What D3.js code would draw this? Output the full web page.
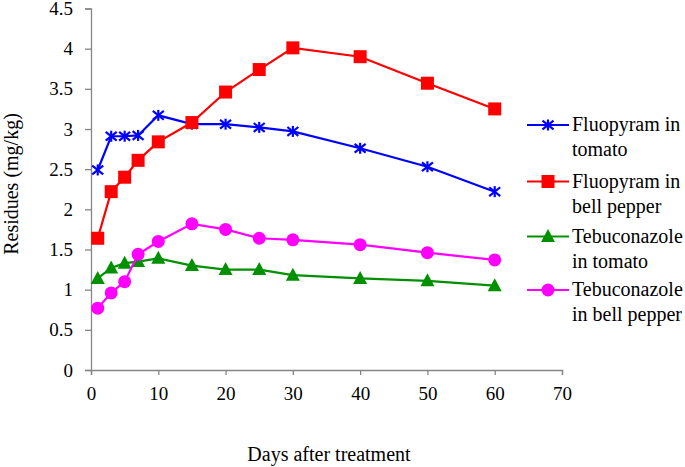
<!DOCTYPE html>
<html><head><meta charset="utf-8">
<script src="https://cdn.jsdelivr.net/npm/d3@7"></script>
<style>body{margin:0;background:#fff}svg{display:block}text{font-family:"Liberation Serif","Times New Roman",serif;fill:#000}</style>
</head><body><svg id="c" width="685" height="467"></svg>
<script>
const days = [1,3,5,7,10,15,20,25,30,40,50,60];
const fluopyramTomato = [2.49,2.91,2.91,2.92,3.17,3.06,3.06,3.02,2.97,2.76,2.53,2.22];
const fluopyramPepper = [1.64,2.22,2.40,2.61,2.84,3.08,3.46,3.74,4.01,3.90,3.57,3.25];
const tebuTomato = [1.14,1.27,1.33,1.35,1.39,1.30,1.25,1.25,1.18,1.14,1.11,1.05];
const tebuPepper = [0.77,0.96,1.10,1.44,1.60,1.82,1.75,1.64,1.62,1.56,1.46,1.37];
const seriesNames = [["Fluopyram in","tomato"],["Fluopyram in","bell pepper"],["Tebuconazole","in tomato"],["Tebuconazole","in bell pepper"]];
const colors = ["#0000ff","#ff0000","#009000","#ff00ff"];
const markers = ["star","square","triangle","circle"];
const xTicks = [0,10,20,30,40,50,60,70];
const yTicks = [0,0.5,1,1.5,2,2.5,3,3.5,4,4.5];
const xTitle = "Days after treatment";
const yTitle = "Residues (mg/kg)";

const svg = d3.select("#c");
const x = d3.scaleLinear().domain([0,70]).range([91,562]);
const y = d3.scaleLinear().domain([0,4.5]).range([370,8.5]);
const axisColor = "#868686";

const gx = svg.append("g").attr("transform","translate(0,370)")
  .call(d3.axisBottom(x).tickValues(xTicks).tickSize(5).tickPadding(12).tickFormat(d3.format("d")));
const gy = svg.append("g").attr("transform","translate(91,0)")
  .call(d3.axisLeft(y).tickValues(yTicks).tickSize(6).tickPadding(12).tickFormat(d=>String(d)));
[gx,gy].forEach(g=>{
  g.select(".domain").attr("stroke",axisColor).attr("stroke-width",1.3);
  g.selectAll(".tick line").attr("stroke",axisColor).attr("stroke-width",1.3);
  g.selectAll("text").attr("font-size",19).attr("font-family","Liberation Serif").attr("fill","#000");
});

svg.append("text").attr("x",329).attr("y",461).attr("text-anchor","middle").attr("font-size",20).text(xTitle);
svg.append("text").attr("transform","translate(18,184) rotate(-90)").attr("text-anchor","middle").attr("font-size",20).text(yTitle);

const allSeries = [fluopyramTomato,fluopyramPepper,tebuTomato,tebuPepper];
const line = d3.line().x((d,i)=>x(days[i])).y(d=>y(d));

function drawMarker(g, type, cx, cy, color){
  if(type==="square"){
    g.append("rect").attr("x",cx-6.5).attr("y",cy-6.5).attr("width",13).attr("height",13).attr("fill",color);
  } else if(type==="circle"){
    g.append("circle").attr("cx",cx).attr("cy",cy).attr("r",6.5).attr("fill",color);
  } else if(type==="triangle"){
    g.append("path").attr("d",`M${cx},${cy-7.5}L${cx+7},${cy+5.5}L${cx-7},${cy+5.5}Z`).attr("fill",color);
  } else {
    const r=5.5;
    const p = [[0,-r,0,r],[-r,-r*0.8,r,r*0.8],[-r,r*0.8,r,-r*0.8]];
    p.forEach(q=>g.append("line").attr("x1",cx+q[0]).attr("y1",cy+q[1]).attr("x2",cx+q[2]).attr("y2",cy+q[3]).attr("stroke",color).attr("stroke-width",2.2));
  }
}

allSeries.forEach((vals,si)=>{
  const g = svg.append("g");
  g.append("path").datum(vals).attr("d",line).attr("fill","none").attr("stroke",colors[si]).attr("stroke-width",2.2);
  vals.forEach((v,i)=>drawMarker(g, markers[si], x(days[i]), y(v), colors[si]));
});

// legend
const legY = [125,181.5,236.5,290];
seriesNames.forEach((nm,si)=>{
  const g = svg.append("g");
  const ly = legY[si];
  g.append("line").attr("x1",527).attr("x2",569).attr("y1",ly).attr("y2",ly).attr("stroke",colors[si]).attr("stroke-width",2.2);
  drawMarker(g, markers[si], 548, ly, colors[si]);
  g.append("text").attr("x",572).attr("y",ly+6).attr("font-size",20).text(nm[0]);
  g.append("text").attr("x",572).attr("y",ly+31).attr("font-size",20).text(nm[1]);
});
</script></body></html>
